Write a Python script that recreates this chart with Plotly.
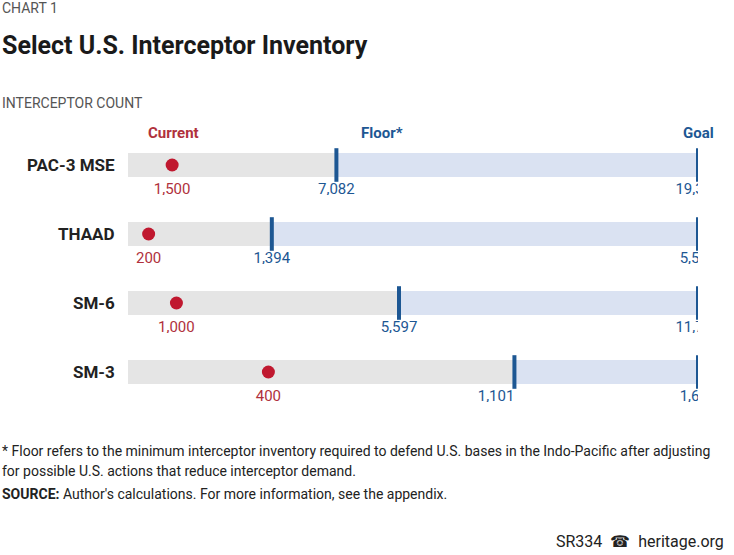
import plotly.graph_objects as go

systems = ["PAC-3 MSE", "THAAD", "SM-6", "SM-3"]
current = [1500, 200, 1000, 400]
floor = [7082, 1394, 5597, 1101]
goal = [19370, 5525, 11772, 1624]

W, H = 734, 555
RED = "#c0182f"
BLUE = "#1d5793"
GREY_BAR = "#e5e5e5"
BLUE_BAR = "#dae2f2"
FONT = "Roboto"

row_centers = [165, 234, 303, 372]  # pixels from top
x0, x1 = 128 / W, 698 / W

fig = go.Figure()
layout_axes = {}
for i, name in enumerate(systems):
    n = "" if i == 0 else str(i + 1)
    xa, ya = "x" + n, "y" + n
    cy = 1 - row_centers[i] / H
    half = 30 / H
    layout_axes["xaxis" + n] = dict(domain=[x0, x1], range=[0, goal[i]], visible=False, fixedrange=True)
    layout_axes["yaxis" + n] = dict(domain=[cy - half, cy + half], range=[-1, 1], visible=False, fixedrange=True)

    fig.add_trace(go.Bar(x=[floor[i]], y=[0], base=0, orientation="h", width=0.8,
                         marker=dict(color=GREY_BAR, line_width=0), xaxis=xa, yaxis=ya))
    fig.add_trace(go.Bar(x=[goal[i] - floor[i]], y=[0], base=floor[i], orientation="h", width=0.8,
                         marker=dict(color=BLUE_BAR, line_width=0), xaxis=xa, yaxis=ya))
    # floor and goal ticks
    fig.add_trace(go.Scatter(x=[floor[i], goal[i]], y=[0, 0], mode="markers",
                             marker=dict(symbol="line-ns", size=24, line=dict(color=BLUE, width=4)),
                             xaxis=xa, yaxis=ya))
    # current dot
    fig.add_trace(go.Scatter(x=[current[i]], y=[0], mode="markers",
                             marker=dict(color=RED, size=13), xaxis=xa, yaxis=ya))
    # value labels
    fig.add_trace(go.Scatter(x=[current[i]], y=[-0.85], mode="text", text=[f"{current[i]:,}"],
                             textfont=dict(color="#b0313c", size=15, family=FONT), xaxis=xa, yaxis=ya))
    fig.add_trace(go.Scatter(x=[floor[i]], y=[-0.85], mode="text", text=[f"{floor[i]:,}"],
                             textposition="middle center" if i < 3 else "middle left",
                             textfont=dict(color=BLUE, size=15, family=FONT), xaxis=xa, yaxis=ya))
    fig.add_trace(go.Scatter(x=[goal[i]], y=[-0.85], mode="text", text=[f"{goal[i]:,}"],
                             textposition="middle center",
                             textfont=dict(color=BLUE, size=15, family=FONT), xaxis=xa, yaxis=ya))

annotations = []
def txt(x, y, s, size=14, color="#222", bold=False, xanchor="left"):
    if bold:
        s = f"<b>{s}</b>"
    annotations.append(dict(x=x / W, y=1 - y / H, xref="paper", yref="paper", text=s, showarrow=False,
                            xanchor=xanchor, yanchor="middle", font=dict(size=size, color=color, family=FONT)))

for i, name in enumerate(systems):
    txt(117, row_centers[i], name, size=17, color="#222", bold=True, xanchor="right")

txt(0, 8, "CHART 1", size=14, color="#555")
txt(0, 45, "Select U.S. Interceptor Inventory", size=25, color="#1a1a1a", bold=True)
txt(0, 103, "INTERCEPTOR COUNT", size=14, color="#555")
txt(173, 133, "Current", size=15, color="#b0313c", bold=True, xanchor="center")
txt(382, 133, "Floor*", size=15, color=BLUE, bold=True, xanchor="center")
txt(698, 133, "Goal", size=15, color=BLUE, bold=True, xanchor="center")
txt(0, 451, "* Floor refers to the minimum interceptor inventory required to defend U.S. bases in the Indo-Pacific after adjusting",
    size=14, color="#222")
txt(0, 471, "for possible U.S. actions that reduce interceptor demand.", size=14, color="#222")
txt(0, 494, "<b>SOURCE:</b> Author's calculations. For more information, see the appendix.", size=14, color="#222")
txt(726, 541, "SR334  ☎  heritage.org", size=16, color="#222", xanchor="right")

fig.update_layout(width=W, height=H, margin=dict(l=0, r=0, t=0, b=0), showlegend=False,
                  plot_bgcolor="white", paper_bgcolor="white", barmode="overlay",
                  annotations=annotations, **layout_axes)

fig.write_html("out.html", config={"displayModeBar": False},
               post_script="document.body.style.margin='0';document.body.style.overflow='hidden';")
